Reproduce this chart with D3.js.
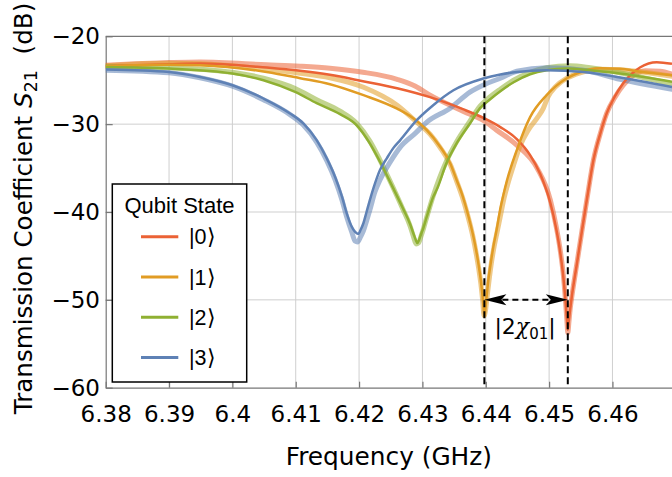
<!DOCTYPE html>
<html><head><meta charset="utf-8">
<script src="https://cdn.jsdelivr.net/npm/d3@7"></script>
<style>body{margin:0;background:#fff}</style>
</head><body><svg id="c" width="672" height="477"></svg>
<script>
// ---------- data ----------
const freqTicks = [6.38, 6.39, 6.4, 6.41, 6.42, 6.43, 6.44, 6.45, 6.46];
const dbTicks = [-60, -50, -40, -30, -20];
const states = ["|0\u27E9", "|1\u27E9", "|2\u27E9", "|3\u27E9"];

// fitted curves [frequency GHz, S21 dB]
const fit0 = [[6.3800,-23.41],[6.3900,-23.18],[6.3949,-23.10],[6.4054,-23.56],[6.4107,-23.92],[6.4154,-24.38],[6.4206,-25.11],[6.4260,-25.91],[6.4312,-26.93],[6.4364,-28.30],[6.4398,-29.35],[6.4423,-30.34],[6.4449,-31.70],[6.4470,-33.52],[6.4486,-35.68],[6.4502,-38.98],[6.4511,-41.82],[6.4517,-44.32],[6.45226,-47.50],[6.45260,-50.23],[6.45284,-52.50],[6.45295,-53.41],[6.45313,-52.27],[6.45331,-51.14],[6.45358,-49.63],[6.4544,-45.83],[6.4552,-42.05],[6.4560,-38.41],[6.4565,-36.14],[6.4570,-34.09],[6.4581,-31.02],[6.4591,-28.75],[6.4604,-26.82],[6.4617,-25.34],[6.4644,-23.52],[6.4670,-22.95],[6.4694,-23.13]];
const fit1 = [[6.3800,-23.41],[6.3900,-23.24],[6.3949,-23.30],[6.4054,-24.06],[6.4107,-24.77],[6.4154,-25.45],[6.4207,-26.70],[6.4260,-28.24],[6.4286,-29.35],[6.4307,-30.68],[6.4328,-32.58],[6.4344,-34.47],[6.4354,-36.36],[6.4363,-38.07],[6.4370,-39.77],[6.4375,-41.14],[6.43805,-42.81],[6.43847,-44.32],[6.43887,-46.02],[6.43921,-47.73],[6.43950,-49.66],[6.43967,-51.02],[6.43978,-51.93],[6.43994,-51.02],[6.44016,-49.43],[6.44041,-47.73],[6.44079,-45.80],[6.44120,-43.94],[6.44171,-42.05],[6.44226,-39.77],[6.44274,-38.18],[6.44332,-36.48],[6.4449,-32.95],[6.4470,-29.20],[6.4496,-26.70],[6.4528,-24.77],[6.4549,-24.09],[6.4581,-23.64],[6.4612,-23.69],[6.4644,-24.03],[6.4694,-24.43]];
const fit2 = [[6.3800,-23.49],[6.3900,-23.67],[6.4000,-24.24],[6.4049,-25.00],[6.4099,-26.33],[6.4133,-27.61],[6.4170,-28.86],[6.4196,-30.11],[6.4217,-32.19],[6.4233,-34.28],[6.4254,-37.31],[6.4269,-39.55],[6.42805,-41.36],[6.42860,-42.50],[6.42895,-43.18],[6.42920,-43.52],[6.42947,-43.18],[6.42979,-42.50],[6.43015,-41.82],[6.43069,-40.53],[6.4317,-38.30],[6.4323,-37.39],[6.4338,-34.43],[6.4354,-32.19],[6.4375,-29.92],[6.4391,-28.18],[6.4407,-27.16],[6.4423,-26.25],[6.4444,-25.23],[6.4470,-24.32],[6.4496,-23.86],[6.4528,-23.67],[6.4565,-23.86],[6.4612,-24.24],[6.4694,-25.19]];
const fit3 = [[6.3800,-23.78],[6.3900,-24.06],[6.3949,-24.63],[6.4000,-25.57],[6.4049,-27.08],[6.4091,-28.78],[6.4112,-29.92],[6.4133,-31.82],[6.4149,-33.90],[6.4162,-35.99],[6.4173,-38.26],[6.41805,-40.15],[6.41884,-41.67],[6.41937,-42.27],[6.41989,-42.50],[6.42023,-42.05],[6.42068,-41.28],[6.42118,-40.00],[6.4217,-38.64],[6.4228,-36.14],[6.4233,-35.23],[6.4244,-33.86],[6.4254,-32.73],[6.4265,-31.82],[6.4291,-29.55],[6.4317,-27.84],[6.4349,-26.14],[6.4396,-24.81],[6.4423,-24.35],[6.4449,-24.06],[6.4496,-23.86],[6.4554,-24.06],[6.4607,-24.63],[6.4694,-25.76]];

// measured traces [frequency GHz, S21 dB]
const data0 = [[6.3800,-23.30],[6.3900,-22.99],[6.3949,-22.92],[6.4054,-23.24],[6.4107,-23.41],[6.4154,-23.64],[6.4206,-24.09],[6.4260,-24.89],[6.4289,-25.68],[6.4312,-26.70],[6.4364,-28.52],[6.4398,-29.66],[6.4417,-30.68],[6.4449,-32.39],[6.4481,-35.00],[6.4502,-38.64],[6.4511,-41.59],[6.4517,-44.09],[6.45226,-47.27],[6.45260,-50.23],[6.45284,-52.73],[6.45295,-53.75],[6.45313,-52.50],[6.45331,-51.14],[6.45358,-49.66],[6.4544,-45.80],[6.4552,-42.05],[6.4560,-38.41],[6.4570,-34.09],[6.4581,-31.02],[6.4591,-28.75],[6.4604,-26.93],[6.4617,-25.57],[6.4631,-24.55],[6.4652,-23.92],[6.4675,-23.98],[6.4694,-24.32]];
const data1 = [[6.3800,-23.35],[6.3900,-23.07],[6.3949,-23.13],[6.4054,-23.75],[6.4107,-24.20],[6.4154,-24.72],[6.4207,-25.80],[6.4260,-27.84],[6.4291,-29.77],[6.4312,-31.14],[6.4328,-32.67],[6.4344,-34.60],[6.4354,-36.48],[6.4363,-38.30],[6.4370,-40.00],[6.4375,-41.36],[6.43805,-43.07],[6.43847,-44.66],[6.43887,-46.36],[6.43921,-48.07],[6.43950,-50.00],[6.43974,-51.82],[6.43997,-51.14],[6.44021,-49.66],[6.44049,-47.95],[6.44084,-46.02],[6.44128,-44.09],[6.44179,-42.27],[6.44234,-40.34],[6.44289,-38.41],[6.44352,-36.70],[6.4445,-34.43],[6.4454,-32.50],[6.4467,-30.68],[6.4481,-29.32],[6.4491,-28.18],[6.4498,-26.93],[6.4511,-25.68],[6.4528,-24.77],[6.4549,-24.15],[6.4581,-23.75],[6.4612,-23.81],[6.4644,-24.03],[6.4694,-24.55]];
const data2 = [[6.3800,-23.44],[6.3900,-23.58],[6.4000,-24.09],[6.4049,-24.77],[6.4099,-25.94],[6.4133,-27.22],[6.4170,-28.52],[6.4196,-29.89],[6.4217,-31.93],[6.4233,-34.09],[6.4254,-37.27],[6.4269,-39.66],[6.42805,-41.59],[6.42860,-42.84],[6.42900,-43.64],[6.42939,-43.52],[6.42979,-42.73],[6.43015,-41.93],[6.43069,-40.57],[6.4317,-38.18],[6.4338,-34.20],[6.4354,-31.99],[6.4375,-29.66],[6.4391,-27.95],[6.4407,-26.88],[6.4423,-26.02],[6.4444,-25.00],[6.4470,-24.09],[6.4496,-23.58],[6.4533,-23.35],[6.4565,-23.58],[6.4612,-24.15],[6.4694,-25.45]];
const data3 = [[6.3800,-23.86],[6.3900,-24.15],[6.3949,-24.72],[6.4000,-25.68],[6.4049,-27.22],[6.4091,-28.92],[6.4112,-30.11],[6.4133,-32.05],[6.4149,-34.15],[6.4162,-36.31],[6.4173,-38.64],[6.41805,-40.57],[6.41884,-42.27],[6.41937,-43.30],[6.41976,-43.41],[6.42023,-42.84],[6.42068,-42.16],[6.42118,-41.02],[6.4217,-39.77],[6.4225,-37.73],[6.4233,-36.36],[6.4249,-34.32],[6.4265,-32.61],[6.4289,-31.02],[6.4307,-29.77],[6.4344,-28.18],[6.4375,-26.36],[6.4399,-25.45],[6.4423,-24.77],[6.4449,-23.98],[6.4496,-23.58],[6.4554,-23.86],[6.4612,-24.89],[6.4694,-26.02]];

// resonance markers (|1> and |0> dips) and arrow level
const markerFreqs = [6.43978, 6.45295];
const arrowDb = -50;

// ---------- styles ----------
const colors = ["#EB6235", "#E19C24", "#8FB032", "#5E81B5"];
const fits = [fit0, fit1, fit2, fit3];
const datas = [data0, data1, data2, data3];

const svg = d3.select("#c");
const L = 105.7, R = 672, T = 36.3, B = 387.7;
const x = d3.scaleLinear().domain([6.38, 6.4694]).range([L, R]);
const y = d3.scaleLinear().domain([-60, -20]).range([B, T]);

svg.append("defs").append("clipPath").attr("id","clip")
  .append("rect").attr("x",L).attr("y",T).attr("width",R-L).attr("height",B-T);

// grid
const grid = svg.append("g").attr("stroke","#cfcfcf").attr("stroke-width",1);
grid.selectAll("line.v").data(freqTicks.slice(1)).join("line")
  .attr("x1",d=>x(d)).attr("x2",d=>x(d)).attr("y1",T).attr("y2",B);
grid.selectAll("line.h").data(dbTicks.slice(1,-1)).join("line")
  .attr("x1",L).attr("x2",R).attr("y1",d=>y(d)).attr("y2",d=>y(d));

// frame top
svg.append("line").attr("x1",L).attr("x2",R).attr("y1",T).attr("y2",T)
  .attr("stroke","#777").attr("stroke-width",1.2);

// axes
const xAxis = d3.axisBottom(x).tickValues(freqTicks).tickSizeInner(-6).tickSizeOuter(0)
  .tickPadding(17.5).tickFormat(d=>String(d));
const gx = svg.append("g").attr("transform",`translate(0,${B})`).call(xAxis);
const yAxis = d3.axisLeft(y).tickValues(dbTicks).tickSizeInner(-7).tickSizeOuter(0)
  .tickPadding(5.7).tickFormat(d=> d<0 ? "\u2212"+Math.abs(d) : String(d));
const gy = svg.append("g").attr("transform",`translate(${L},0)`).call(yAxis);
[gx,gy].forEach(g=>{
  g.select(".domain").attr("stroke","#777").attr("stroke-width",1.2);
  g.selectAll(".tick line").attr("stroke","#777").attr("stroke-width",1.2);
  g.selectAll(".tick text").attr("fill","#000").style("font-family","DejaVu Sans").style("font-size","23px");
});

// curves
const line = d3.line().x(d=>x(d[0])).y(d=>y(d[1])).curve(d3.curveMonotoneX);
const plot = svg.append("g").attr("clip-path","url(#clip)");
plot.selectAll("path.data").data(datas).join("path")
  .attr("d",line).attr("fill","none")
  .attr("stroke",(d,i)=>colors[i]).attr("stroke-opacity",0.55)
  .attr("stroke-width",5).attr("stroke-linecap","round").attr("stroke-linejoin","round");
plot.selectAll("path.fit").data(fits).join("path")
  .attr("d",line).attr("fill","none")
  .attr("stroke",(d,i)=>colors[i]).attr("stroke-width",2.5);

// dashed markers
svg.selectAll("line.mk").data(markerFreqs).join("line")
  .attr("x1",d=>x(d)).attr("x2",d=>x(d)).attr("y1",T).attr("y2",B)
  .attr("stroke","#000").attr("stroke-width",2).attr("stroke-dasharray","7,4");

// double arrow
const ay = y(arrowDb), ax0 = x(markerFreqs[0]), ax1 = x(markerFreqs[1]);
svg.append("line").attr("x1",ax0+18).attr("x2",ax1-18).attr("y1",ay).attr("y2",ay)
  .attr("stroke","#000").attr("stroke-width",2).attr("stroke-dasharray","6,4");
const headL = `M${ax0},${ay} L${ax0+22},${ay-5.5} L${ax0+17},${ay} L${ax0+22},${ay+5.5} Z`;
const headR = `M${ax1},${ay} L${ax1-22},${ay-5.5} L${ax1-17},${ay} L${ax1-22},${ay+5.5} Z`;
svg.append("path").attr("d",headL).attr("fill","#000");
svg.append("path").attr("d",headR).attr("fill","#000");

const chi = svg.append("text").attr("x",(ax0+ax1)/2-1).attr("y",ay+34)
  .attr("text-anchor","middle").style("font-family","DejaVu Sans").style("font-size","22px");
chi.append("tspan").text("|2");
chi.append("tspan").text("\u03C7").style("font-family","DejaVu Serif").style("font-style","italic");
chi.append("tspan").text("01").style("font-size","15px").attr("dy",5);
chi.append("tspan").text("|").attr("dy",-5);

// axis titles
svg.append("text").attr("x",(L+R)/2).attr("y",465).attr("text-anchor","middle")
  .style("font-family","DejaVu Sans").style("font-size","24.8px").text("Frequency (GHz)");
const yt = svg.append("text").attr("transform","translate(32,208.5) rotate(-90)")
  .attr("text-anchor","middle").style("font-family","DejaVu Sans").style("font-size","24.6px");
yt.append("tspan").text("Transmission Coefficient ");
yt.append("tspan").text("S").style("font-style","italic");
yt.append("tspan").text("21").style("font-size","17.5px").attr("dy",5);
yt.append("tspan").text("\u00A0 (dB)").attr("dy",-5);

// legend
const lg = svg.append("g");
lg.append("rect").attr("x",112.3).attr("y",184).attr("width",134.4).attr("height",198)
  .attr("fill","#fff").attr("stroke","#000").attr("stroke-width",1.5);
lg.append("text").attr("x",179.5).attr("y",212.5).attr("text-anchor","middle")
  .style("font-family","Liberation Sans").style("font-size","22px").text("Qubit State");
const items = lg.selectAll("g.it").data(states).join("g")
  .attr("transform",(d,i)=>`translate(0,${236.7+i*40.3})`);
items.append("line").attr("x1",141).attr("x2",178.3)
  .attr("stroke",(d,i)=>colors[i]).attr("stroke-width",3);
items.append("text").attr("x",189).attr("dy","0.36em")
  .style("font-family","Liberation Sans").style("font-size","21.5px").text(d=>d);
</script></body></html>
